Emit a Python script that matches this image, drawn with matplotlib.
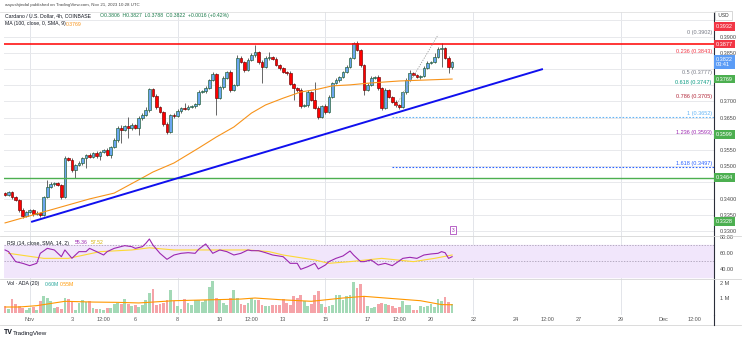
import matplotlib
matplotlib.use("Agg")
import matplotlib.pyplot as plt
from matplotlib.lines import Line2D
import numpy as np

W, H = 745, 340

# 4h candles, Nov 1 - Nov 21 (index 0 = first visible candle)
closes = [0.3411, 0.3420, 0.3405, 0.3396, 0.3365, 0.3346, 0.3359, 0.3365, 0.3352, 0.3356,
          0.3349, 0.3405, 0.3436, 0.3445, 0.3448, 0.3442, 0.3405, 0.3525, 0.3519, 0.3488,
          0.3504, 0.3510, 0.3525, 0.3535, 0.3528, 0.3541, 0.3531, 0.3544, 0.3550, 0.3535,
          0.3559, 0.3581, 0.3618, 0.3612, 0.3624, 0.3618, 0.3627, 0.3618, 0.3649, 0.3658,
          0.3673, 0.3738, 0.3717, 0.3683, 0.3667, 0.3630, 0.3606, 0.3658, 0.3655, 0.3670,
          0.3680, 0.3677, 0.3683, 0.3686, 0.3692, 0.3729, 0.3731, 0.3741, 0.3766, 0.3785,
          0.3710, 0.3744, 0.3772, 0.3791, 0.3735, 0.3751, 0.3834, 0.3822, 0.3797, 0.3828,
          0.3843, 0.3852, 0.3822, 0.3806, 0.3834, 0.3837, 0.3831, 0.3812, 0.3803, 0.3791,
          0.3788, 0.3754, 0.3741, 0.3735, 0.3686, 0.3688, 0.3729, 0.3704, 0.3680, 0.3652,
          0.3686, 0.3667, 0.3714, 0.3757, 0.3766, 0.3775, 0.3791, 0.3806, 0.3834, 0.3880,
          0.3859, 0.3812, 0.3735, 0.3751, 0.3772, 0.3775, 0.3741, 0.3680, 0.3735, 0.3714,
          0.3698, 0.3689, 0.3683, 0.3729, 0.3766, 0.3788, 0.3781, 0.3775, 0.3778, 0.3803,
          0.3819, 0.3822, 0.3837, 0.3862, 0.3865, 0.3834, 0.3806, 0.3822]
first_open = 0.3416
# wick lengths beyond the body, in 0.0001 steps
wick_up = [4, 5, 3, 4, 3, 5, 4, 3, 4, 5,   3, 4, 20, 5, 4, 3, 4, 5, 4, 6,
           4, 5, 4, 3, 5, 4, 6, 4, 3, 5,   4, 6, 5, 8, 4, 28, 5, 4, 6, 5,
           10, 3, 4, 5, 4, 3, 5, 4, 6, 5,  4, 15, 5, 4, 3, 5, 4, 6, 4, 5,
           4, 5, 6, 4, 5, 4, 9, 5, 4, 6,   5, 22, 4, 5, 6, 15, 4, 5, 4, 3,
           4, 5, 3, 4, 5, 4, 6, 4, 56, 5,  4, 5, 6, 4, 5, 4, 3, 5, 4, 2,
           5, 4, 4, 6, 5, 4, 5, 4, 6, 4,   4, 5, 3, 4, 5, 9, 4, 5, 4, 6,
           5, 4, 12, 5, 15, 4, 5, 4]
wick_dn = [4, 3, 5, 4, 5, 6, 4, 3, 5, 4,   5, 4, 3, 4, 5, 4, 6, 4, 3, 5,
           24, 4, 5, 30, 4, 3, 5, 13, 4, 5, 10, 4, 5, 40, 4, 30, 5, 4, 22, 5,
           4, 5, 4, 6, 4, 5, 8, 4, 5, 4,   5, 4, 3, 4, 5, 4, 4, 5, 3, 4,
           52, 4, 5, 4, 6, 4, 5, 4, 5, 4,  4, 5, 6, 49, 4, 5, 3, 4, 5, 4,
           5, 4, 37, 5, 6, 4, 5, 4, 5, 6,  4, 5, 4, 3, 4, 5, 4, 3, 4, 4,
           4, 5, 15, 4, 3, 4, 5, 6, 4, 5,  4, 5, 6, 4, 5, 4, 3, 4, 5, 4,
           4, 5, 4, 3, 56, 4, 18, 5]
volumes = [0.47, 0.27, 0.93, 0.60, 0.47, 0.33, 0.20, 0.33, 0.40, 0.20,
           0.80, 1.13, 1.00, 0.80, 0.33, 0.40, 0.27, 1.00, 0.93, 0.80,
           0.20, 0.67, 0.87, 0.73, 0.80, 0.33, 0.27, 0.27, 0.20, 0.33,
           0.33, 0.60, 0.67, 0.60, 0.93, 0.60, 0.47, 0.53, 0.40, 0.53,
           0.87, 1.33, 1.60, 0.53, 0.60, 0.67, 0.87, 1.53, 0.80, 0.47,
           0.27, 0.93, 0.67, 0.53, 0.87, 0.87, 0.73, 0.87, 1.73, 2.13,
           1.00, 0.87, 0.67, 0.53, 1.00, 1.53, 1.00, 0.60, 0.53, 0.67,
           1.00, 0.87, 0.87, 0.53, 0.47, 0.47, 0.53, 0.53, 0.53, 0.93,
           0.67, 0.53, 1.13, 1.00, 1.20, 0.80, 0.47, 0.60, 1.20, 1.47,
           0.60, 0.40, 0.47, 0.53, 1.20, 1.20, 0.87, 1.13, 1.20, 2.07,
           1.67, 1.93, 1.13, 0.47, 0.33, 0.40, 0.60, 0.67, 0.60, 0.53,
           0.47, 0.33, 0.40, 0.80, 0.53, 0.53, 0.20, 0.20, 0.47, 0.40,
           0.47, 0.60, 0.40, 0.93, 0.80, 1.07, 0.73, 0.60]

# MA(100) on price
ma_idx = [0, 11, 24, 31, 39, 42, 48, 55, 60, 65, 70, 74, 79, 84, 89, 93, 98, 104, 112, 127]
ma_val = [0.3325, 0.3359, 0.3399, 0.3417, 0.3464, 0.3482, 0.3510, 0.3556, 0.3590, 0.3621,
          0.3664, 0.3689, 0.3710, 0.3729, 0.3738, 0.3748, 0.3751, 0.3757, 0.3763, 0.3769]

# RSI(14) and its SMA
rsi_idx = [0, 1, 3, 5, 7, 9, 10, 12, 14, 16, 17, 19, 21, 23, 24, 26, 28, 29, 31, 34,
           36, 37, 39, 40, 41, 42, 44, 46, 48, 50, 52, 54, 55, 57, 59, 61, 63, 65, 67, 69,
           70, 72, 74, 76, 79, 81, 83, 84, 86, 88, 89, 91, 92, 94, 96, 98, 99, 101, 102, 104,
           106, 108, 110, 111, 113, 115, 117, 119, 121, 123, 124, 125, 126, 127]
rsi_val = [63.8, 61.7, 49.2, 47.1, 44.2, 47.1, 59.6, 65.8, 63.8, 55.4, 63.8, 53.4, 61.7, 61.7,
           65.8, 61.7, 57.5, 61.7, 65.8, 69.2, 67.9, 65.8, 67.9, 72.1, 77.5, 70.0, 59.6, 52.1,
           57.5, 59.6, 60.4, 59.6, 64.6, 71.3, 59.6, 63.8, 61.7, 57.5, 59.6, 63.8, 62.9, 62.9,
           60.4, 57.5, 55.4, 47.1, 47.1, 39.6, 42.9, 47.1, 40.0, 45.0, 49.2, 53.3, 56.3, 62.5,
           57.5, 49.2, 49.2, 51.3, 45.0, 47.1, 44.2, 47.1, 53.3, 54.6, 53.3, 57.5, 58.8, 59.6,
           61.7, 60.4, 53.3, 55.4]
sig_idx = [1, 11, 18, 27, 36, 41, 48, 55, 69, 75, 79, 88, 92, 98, 107, 116, 122, 127]
sig_val = [59.6, 53.3, 53.3, 61.7, 63.8, 66.5, 63.8, 63.8, 63.8, 61.7, 57.5, 51.3, 47.1,
           49.2, 53.3, 49.2, 53.3, 57.5]

# volume SMA(20)
vma_idx = [0, 4, 9, 17, 25, 32, 38, 48, 60, 67, 71, 78, 87, 96, 102, 108, 118, 124, 127]
vma_val = [0.40, 0.40, 0.49, 0.78, 0.73, 0.71, 0.67, 0.82, 0.89, 0.93, 1.00, 0.89, 0.78,
           1.00, 1.11, 1.00, 0.82, 0.56, 0.55]

# drawings
resistance = 0.3877
support = 0.3464
trend_idx = [7.4, 152.8]
trend_px = [0.3328, 0.3800]
fib_ratio = ["0", "0.236", "0.5", "0.618", "0.786", "1", "1.236", "1.618"]
fib_price = [0.3902, 0.3843, 0.3777, 0.3747, 0.3705, 0.3652, 0.3593, 0.3497]
fib_color = ["#787b86", "#f23645", "#787b86", "#089981", "#b2283a", "#64b5f6", "#9c27b0", "#2962ff"]
fib_anchor_idx = [111, 123]
fib_anchor_px = [0.3686, 0.3905]
fib_start = 110
event_idx, event_px = 127.3, 0.3303

price_ticks = [0.3300, 0.3350, 0.3400, 0.3450, 0.3500, 0.3550, 0.3600,
               0.3650, 0.3700, 0.3750, 0.3800, 0.3850, 0.3900, 0.3950]
tags = [(0.3932, "0.3932", "#f23645"), (0.3877, "0.3877", "#f23645"),
        (0.3822, "0.3822\n03:41", "#5b9cf6"), (0.3769, "0.3769", "#4caf50"),
        (0.3599, "0.3599", "#4caf50"), (0.3464, "0.3464", "#4caf50"),
        (0.3328, "0.3328", "#4caf50")]

week_idx = [7, 49, 91, 133, 175]
date_idx = [7, 19, 28, 37, 49, 61, 70, 79, 91, 103, 112, 121, 133, 145, 154, 163, 175, 187, 196]
date_lbl = ["Nov", "3", "12:00", "6", "8", "10", "12:00", "13", "15", "17", "12:00",
            "20", "22", "24", "12:00", "27", "29", "Dec", "12:00"]

UP, UP_EDGE = "#6aa6f0", "#1e5b2c"
DN, DN_EDGE = "#ff0000", "#6e0000"

plt.rcParams['font.family'] = ['Liberation Sans', 'DejaVu Sans']


def rect(l, t, r, b):
    return [l / W, 1 - b / H, (r - l) / W, (b - t) / H]


fig = plt.figure(figsize=(W / 100, H / 100), dpi=100)
fig.patch.set_facecolor("white")
ax = fig.add_axes(rect(4, 12, 714, 236))
rsi_ax = fig.add_axes(rect(4, 236, 714, 279), sharex=ax)
vol_ax = fig.add_axes(rect(4, 279, 714, 315), sharex=ax)

for a in (ax, rsi_ax, vol_ax):
    for s in ("left", "top", "bottom"):
        a.spines[s].set_visible(False)
    a.spines["right"].set_color("#2a2e39")
    a.spines["right"].set_linewidth(0.8)
    a.yaxis.tick_right()
    a.tick_params(axis="y", labelsize=4, colors="#4a4a4a", length=0, pad=4)
    a.tick_params(axis="x", length=0)
    for w in week_idx:
        a.axvline(w, color="#e3e5ea", lw=0.7, zorder=0)
ax.set_xlim(-0.3, 201.4)
plt.setp(ax.get_xticklabels(), visible=False)
plt.setp(rsi_ax.get_xticklabels(), visible=False)

# ---- price pane
ax.set_ylim(0.32846, 0.39759)
ax.set_yticks(price_ticks)
# the scale hides a tick label where a coloured tag sits on it
ax.set_yticklabels(["" if min(abs(p - t[0]) for t in tags) < 0.0022 else f"{p:.4f}"
                    for p in price_ticks])
for p in price_ticks:
    ax.axhline(p, color="#e8e9ec", lw=0.7, zorder=0)

opens = [first_open] + closes[:-1]
idx = np.arange(len(closes))
o, c = np.array(opens), np.array(closes)
up = c >= o
top, bot = np.maximum(o, c), np.minimum(o, c)
highs = top + np.array(wick_up) * 0.0001
lows = bot - np.array(wick_dn) * 0.0001
ax.vlines(idx, lows, highs, color="#4d4d4d", lw=0.6, zorder=3)
ax.bar(idx, np.maximum(top - bot, 0.00007), bottom=bot, width=0.78,
       color=[UP if u else DN for u in up], edgecolor=[UP_EDGE if u else DN_EDGE for u in up],
       linewidth=0.45, zorder=4)

ax.plot(ma_idx, ma_val, color="#f7931a", lw=0.8, zorder=5)
ax.axhline(resistance, color="#ff0000", lw=1.1, zorder=5)
ax.axhline(support, color="#4caf50", lw=1.0, zorder=5)
ax.plot(trend_idx, trend_px, color="#1010ee", lw=1.4, zorder=6, solid_capstyle="butt")

ax.plot(fib_anchor_idx, fib_anchor_px, color="#9a9a9a", lw=0.6, ls=(0, (1.5, 1.5)), zorder=6)
ax.hlines([fib_price[5]], fib_start, 201.4, color="#64b5f6", lw=0.8, ls=(0, (1.5, 1.5)), zorder=2)
ax.hlines([fib_price[7]], fib_start, 201.4, color="#2962ff", lw=0.8, ls=(0, (1.5, 1.5)), zorder=2)
ytr = ax.get_yaxis_transform()
for r, p, col in zip(fib_ratio, fib_price, fib_color):
    ax.text(0.997, p + 0.0003, f"{r} ({p:.4f})", transform=ytr, ha="right", va="bottom",
            fontsize=4, color=col, zorder=7)

ax.text(event_idx, event_px, "3", fontsize=3.5, color="#9c27b0", ha="center", va="center",
        bbox=dict(boxstyle="square,pad=0.3", fc="white", ec="#9c27b0", lw=0.5), zorder=7)

for p, t, col in tags:
    ax.text(1.003, p, t, transform=ytr, ha="left", va="center", fontsize=4, color="white",
            linespacing=1.0, clip_on=False, zorder=10,
            bbox=dict(boxstyle="square,pad=0.35", fc=col, ec="none"))
ax.text(1.004, 0.3966, " USD ", transform=ytr, ha="left", va="center", fontsize=3.5,
        color="#333", clip_on=False, zorder=11,
        bbox=dict(boxstyle="square,pad=0.4", fc="white", ec="#c8c8c8", lw=0.5))

# ---- RSI pane
rsi_ax.set_ylim(27.5, 81.25)
rsi_ax.axhspan(30, 70, color="#f1e6fb", zorder=0)
rsi_ax.axhline(70, color="#9e94ab", lw=0.5, ls=(0, (2, 2)), zorder=1)
rsi_ax.axhline(50, color="#9e94ab", lw=0.5, ls=(0, (2, 2)), zorder=1)
rsi_ax.plot(sig_idx, sig_val, color="#fdd835", lw=0.8, zorder=3)
rsi_ax.plot(rsi_idx, rsi_val, color="#9c27b0", lw=0.8, zorder=4)
rsi_ax.set_yticks([40, 60, 80])
rsi_ax.set_yticklabels(["40.00", "60.00", "80.00"])

# ---- volume pane
vol_ax.set_ylim(-0.133, 2.267)
vol_ax.bar(idx, volumes, width=0.78, color=["#a3d9b6" if u else "#f5a3a8" for u in up], zorder=2)
vol_ax.plot(vma_idx, vma_val, color="#ff9800", lw=0.8, zorder=3)
vol_ax.set_yticks([1, 2])
vol_ax.set_yticklabels(["1 M", "2 M"])
vol_ax.set_xticks(date_idx)
vol_ax.set_xticklabels(date_lbl)
vol_ax.tick_params(axis="x", labelsize=4, colors="#555", pad=1.5)


# ---- frame lines
def hline_px(y, x0=0, x1=741, color="#d6d6d6", lw=0.6):
    fig.add_artist(Line2D([x0 / W, x1 / W], [1 - y / H, 1 - y / H], color=color, lw=lw))


hline_px(236)
hline_px(279)
hline_px(325)
hline_px(12, 0, 714, "#e0e0e0")
fig.add_artist(Line2D([714.4 / W, 714.4 / W], [1 - 315 / H, 1 - 325 / H], color="#2a2e39", lw=0.8))

# ---- legends
fig.text(5 / W, 1 - 5 / H, "aayushjindal published on TradingView.com, Nov 21, 2023 10:28 UTC",
         fontsize=3.2, color="#444", va="center")
fig.text(5 / W, 1 - 16 / H, "Cardano / U.S. Dollar, 4h, COINBASE", fontsize=3.7,
         color="#131722", va="center")
fig.text(100 / W, 1 - 16 / H, "O0.3806  H0.3827  L0.3788  C0.3822  +0.0016 (+0.42%)",
         fontsize=3.7, color="#1b7a4a", va="center")
fig.text(5 / W, 1 - 24 / H, "MA (100, close, 0, SMA, 9)", fontsize=3.7, color="#131722", va="center")
fig.text(66 / W, 1 - 24 / H, "0.3769", fontsize=3.7, color="#f7931a", va="center")

fig.text(7 / W, 1 - 243 / H, "RSI (14, close, SMA, 14, 2)", fontsize=3.7, color="#131722", va="center")
fig.text(75 / W, 1 - 243 / H, "55.36", fontsize=3.7, color="#9c27b0", va="center")
fig.text(91 / W, 1 - 243 / H, "57.52", fontsize=3.7, color="#d4b106", va="center")
fig.text(7 / W, 1 - 284 / H, "Vol \u00b7 ADA (20)", fontsize=3.7, color="#131722", va="center")
fig.text(45 / W, 1 - 284 / H, "0.60M", fontsize=3.7, color="#26a69a", va="center")
fig.text(60 / W, 1 - 284 / H, "0.55M", fontsize=3.7, color="#ff9800", va="center")

fig.text(4 / W, 1 - 333 / H, "TV", fontsize=5, fontweight="bold", color="#131722", va="center")
fig.text(13 / W, 1 - 333 / H, "TradingView", fontsize=4.5, color="#131722", va="center")

fig.savefig("out.png", dpi=100)
